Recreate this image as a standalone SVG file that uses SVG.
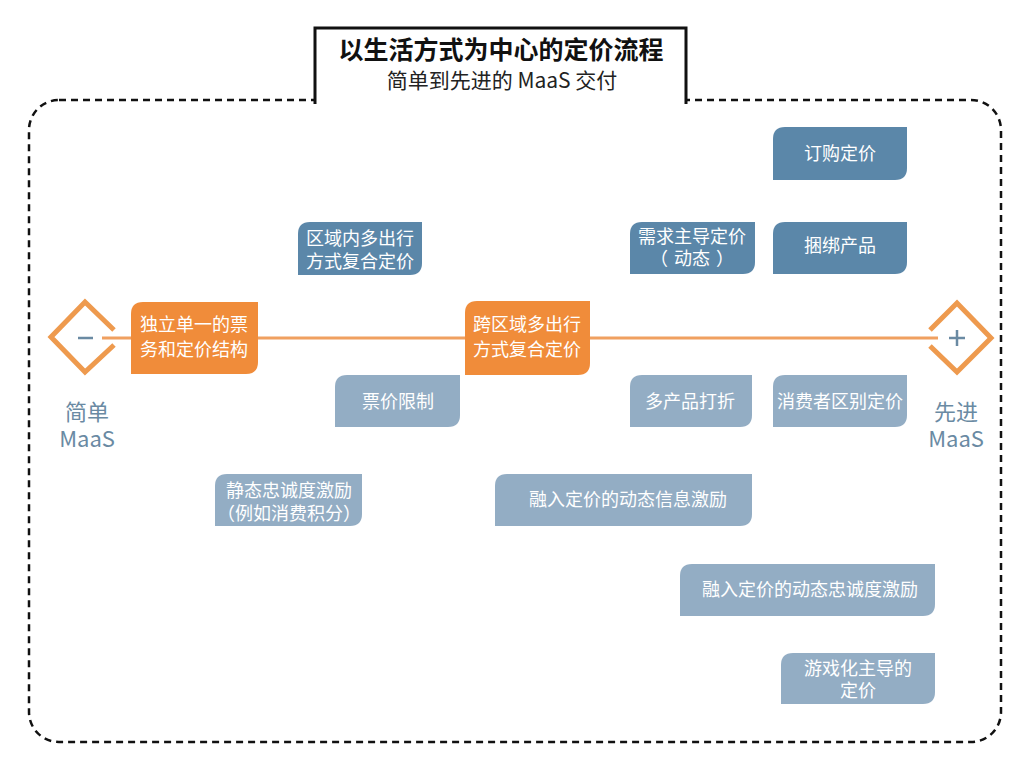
<svg xmlns="http://www.w3.org/2000/svg" width="1032" height="768" viewBox="0 0 1032 768">
<style>
text{font-family:"Noto Sans CJK SC","Liberation Sans",sans-serif;}
.bt{fill:#ffffff;font-size:18px;text-anchor:middle;}
.dk{fill:#5b87a9;}
.lt{fill:#93adc4;}
.or{fill:#f08c3a;}
.lbl{fill:#6a8aa3;font-size:22px;text-anchor:middle;}
.dia{fill:none;stroke:#ee9a4e;stroke-width:5;stroke-linejoin:miter;}
</style>
<rect width="1032" height="768" fill="#ffffff"/>
<g id="frame">
<rect x="29" y="100" width="972" height="642" rx="30" fill="none" stroke="#111" stroke-width="2.5" stroke-dasharray="7 5"/>
<rect x="315" y="28" width="371" height="78" fill="#ffffff" stroke="none"/>
<path d="M315,104 V28 H686 V104" fill="none" stroke="#111" stroke-width="3"/>
<text x="501" y="59" text-anchor="middle" font-size="25" font-weight="bold" fill="#111">以生活方式为中心的定价流程</text>
<text x="502" y="88" text-anchor="middle" font-size="21" fill="#222">简单到先进的 MaaS 交付</text>
</g>
<g id="connectors">
<line x1="102" y1="338" x2="938" y2="338" stroke="#f0a060" stroke-width="3"/>
</g>
<g id="start">
<path class="dia" d="M114,330 L85,302 L51,337 L85,372 L114,345"/>
<line x1="78" y1="338" x2="93" y2="338" stroke="#6a8aa3" stroke-width="2.5"/>
<text class="lbl" x="87" y="420">简单</text>
<text class="lbl" x="87" y="447">MaaS</text>
</g>
<g id="end">
<path class="dia" d="M930,330 L957,303 L991,338 L957,372 L930,346"/>
<line x1="949" y1="338" x2="965" y2="338" stroke="#6a8aa3" stroke-width="2.5"/>
<line x1="957" y1="330" x2="957" y2="346" stroke="#6a8aa3" stroke-width="2.5"/>
<text class="lbl" x="956" y="420">先进</text>
<text class="lbl" x="956" y="447">MaaS</text>
</g>
<g id="n1">
<path class="or" d="M143,302 H258 V362 Q258,374 246,374 H131 V314 Q131,302 143,302 Z"/>
<text class="bt" x="194" y="331">独立单一的票</text>
<text class="bt" x="194" y="356">务和定价结构</text>
</g>
<g id="n2">
<path class="or" d="M477,301 H590 V363 Q590,375 578,375 H465 V313 Q465,301 477,301 Z"/>
<text class="bt" x="527" y="331">跨区域多出行</text>
<text class="bt" x="527" y="356">方式复合定价</text>
</g>
<g id="n3">
<path class="dk" d="M310,222 H422 V263 Q422,275 410,275 H298 V234 Q298,222 310,222 Z"/>
<text class="bt" x="360" y="245">区域内多出行</text>
<text class="bt" x="360" y="268">方式复合定价</text>
</g>
<g id="n4">
<path class="dk" d="M642,222 H755 V262 Q755,274 743,274 H630 V234 Q630,222 642,222 Z"/>
<text class="bt" x="692" y="243">需求主导定价</text>
<text class="bt" x="692" y="265">（<tspan dx="6">动态</tspan><tspan dx="6">）</tspan></text>
</g>
<g id="n5">
<path class="dk" d="M785,127 H907 V168 Q907,180 895,180 H773 V139 Q773,127 785,127 Z"/>
<text class="bt" x="840" y="160">订购定价</text>
</g>
<g id="n6">
<path class="dk" d="M785,222 H907 V262 Q907,274 895,274 H773 V234 Q773,222 785,222 Z"/>
<text class="bt" x="840" y="252">捆绑产品</text>
</g>
<g id="n7">
<path class="lt" d="M347,375 H460 V415 Q460,427 448,427 H335 V387 Q335,375 347,375 Z"/>
<text class="bt" x="398" y="408">票价限制</text>
</g>
<g id="n8">
<path class="lt" d="M642,375 H752 V415 Q752,427 740,427 H630 V387 Q630,375 642,375 Z"/>
<text class="bt" x="690" y="408">多产品打折</text>
</g>
<g id="n9">
<path class="lt" d="M785,375 H907 V415 Q907,427 895,427 H773 V387 Q773,375 785,375 Z"/>
<text class="bt" x="840" y="408">消费者区别定价</text>
</g>
<g id="n10">
<path class="lt" d="M227,474 H362 V514 Q362,526 350,526 H215 V486 Q215,474 227,474 Z"/>
<text class="bt" x="289" y="497">静态忠诚度激励</text>
<text class="bt" x="289" y="520">（例如消费积分）</text>
</g>
<g id="n11">
<path class="lt" d="M507,474 H752 V514 Q752,526 740,526 H495 V486 Q495,474 507,474 Z"/>
<text class="bt" x="628" y="506">融入定价的动态信息激励</text>
</g>
<g id="n12">
<path class="lt" d="M692,564 H935 V604 Q935,616 923,616 H680 V576 Q680,564 692,564 Z"/>
<text class="bt" x="810" y="596">融入定价的动态忠诚度激励</text>
</g>
<g id="n13">
<path class="lt" d="M793,653 H935 V692 Q935,704 923,704 H781 V665 Q781,653 793,653 Z"/>
<text class="bt" x="858" y="675">游戏化主导的</text>
<text class="bt" x="858" y="697">定价</text>
</g>
</svg>
